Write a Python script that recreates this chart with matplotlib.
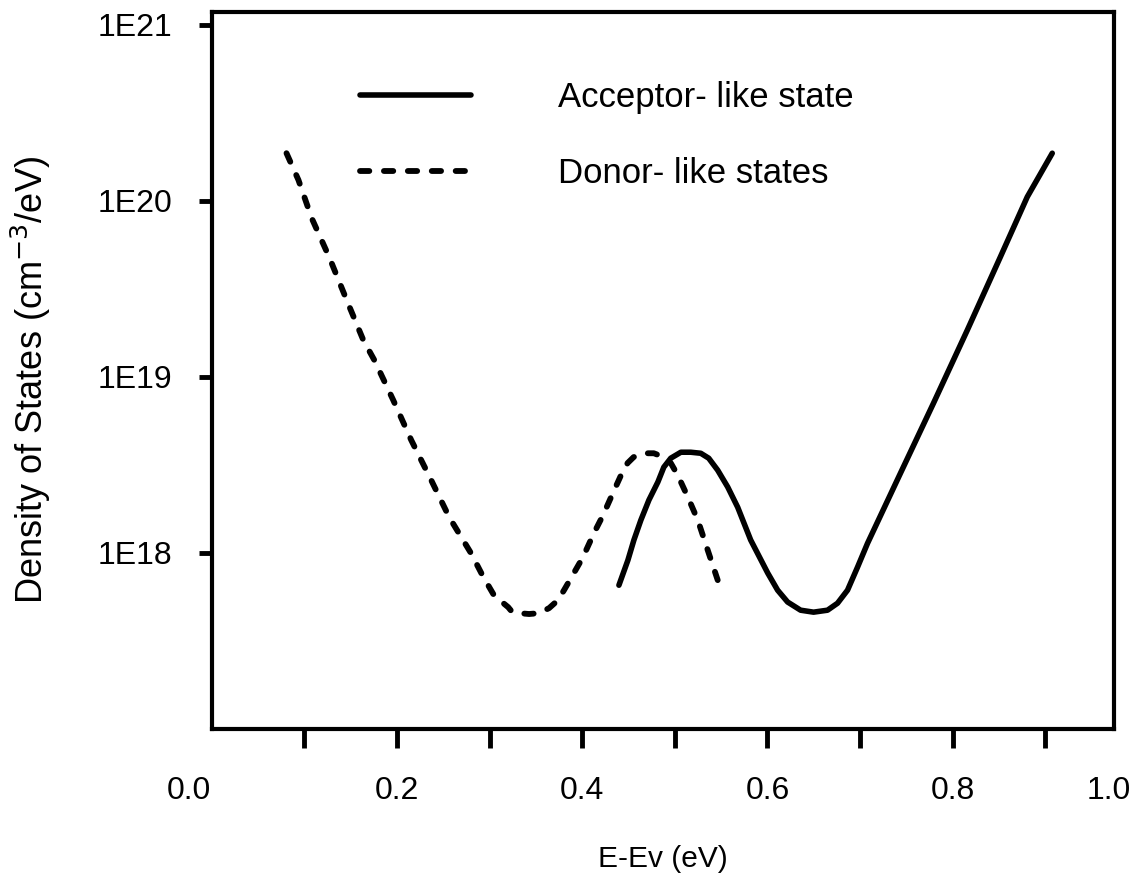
import numpy as np
import matplotlib.pyplot as plt
from matplotlib.transforms import offset_copy

plt.rcParams['font.family'] = ['Liberation Sans', 'DejaVu Sans']

# donor-like states (dashed)
donor_e = [0.0806, 0.0935, 0.1078, 0.1272, 0.1456, 0.1636, 0.1755, 0.1959, 0.2153,
           0.2369, 0.2563, 0.2800, 0.2930, 0.3049, 0.3200, 0.3243, 0.3318, 0.3426,
           0.3534, 0.3642, 0.3738, 0.3803, 0.3878, 0.4008, 0.4126, 0.4224, 0.4331,
           0.4418, 0.4490, 0.4555, 0.4665, 0.4773, 0.4881, 0.4956, 0.5032, 0.5140,
           0.5248, 0.5356, 0.5463]
donor_dos = [1.86e20, 1.31e20, 7.96e19, 4.71e19, 2.72e19, 1.61e19, 1.24e19, 7.35e18,
             4.36e18, 2.58e18, 1.59e18, 9.9e17, 7.3e17, 5.7e17, 4.9e17, 4.6e17,
             4.53e17, 4.48e17, 4.53e17, 4.84e17, 5.37e17, 6.12e17, 7.16e17, 9.43e17,
             1.29e18, 1.63e18, 2.18e18, 2.75e18, 3.23e18, 3.49e18, 3.67e18, 3.67e18,
             3.49e18, 3.23e18, 2.75e18, 2.07e18, 1.53e18, 1.03e18, 6.98e17]

# acceptor-like state (solid)
acc_e = [0.4396, 0.4493, 0.4558, 0.4633, 0.4720, 0.4817, 0.4881, 0.4956, 0.5065,
         0.5172, 0.5280, 0.5366, 0.5463, 0.5571, 0.5679, 0.5819, 0.6003, 0.6110,
         0.6218, 0.6358, 0.6498, 0.6649, 0.6757, 0.6865, 0.6973, 0.7081, 0.7437,
         0.7793, 0.8159, 0.8515, 0.8806, 0.9076]
acc_dos = [6.53e17, 9.06e17, 1.18e18, 1.53e18, 1.99e18, 2.52e18, 3.06e18, 3.44e18,
           3.72e18, 3.72e18, 3.67e18, 3.44e18, 2.94e18, 2.36e18, 1.81e18, 1.18e18,
           7.66e17, 6.12e17, 5.24e17, 4.71e17, 4.59e17, 4.71e17, 5.16e17, 6.12e17,
           8.27e17, 1.13e18, 2.83e18, 7.06e18, 1.84e19, 4.78e19, 1.05e20, 1.86e20]

xticks = [0.1, 0.2, 0.3, 0.4, 0.5, 0.6, 0.7, 0.8, 0.9]
xtick_labels = ['', '0.2', '', '0.4', '', '0.6', '', '0.8', '']
yticks = [1e18, 1e19, 1e20, 1e21]
ytick_labels = ['1E18', '1E19', '1E20', '1E21']

tick_fs = 23
fig = plt.figure(figsize=(11.33, 8.8), dpi=100)
ax = fig.add_axes([0.187, 0.172, 0.796, 0.814])

ax.plot(acc_e, acc_dos, color='black', lw=4, solid_capstyle='round',
        solid_joinstyle='round', label='Acceptor- like state')
ax.plot(donor_e, donor_dos, color='black', lw=4.2, dashes=(1.6, 2.5),
        dash_capstyle='round', label='Donor- like states')

ax.set_yscale('log')
ax.set_xlim(0, 0.974)
ax.set_ylim(1e17, 1.175e21)
ax.set_xticks(xticks, xtick_labels)
ax.set_yticks(yticks, ytick_labels)
ax.minorticks_off()
ax.tick_params(axis='x', direction='out', length=14, width=3.5, pad=20, labelsize=tick_fs)
ax.tick_params(axis='y', direction='out', length=9.5, width=3.5, pad=19, labelsize=tick_fs)

# end labels of the energy axis, set just outside the ticked range
end_tr = offset_copy(ax.transAxes, fig=fig, x=0, y=-34, units='points')
for xpos, txt in [(-0.025, '0.0'), (0.995, '1.0')]:
    ax.text(xpos, 0.0, txt, transform=end_tr, fontsize=tick_fs, ha='center', va='top')

for sp in ax.spines.values():
    sp.set_linewidth(3)

ax.set_xlabel('E-Ev (eV)', fontsize=21.5)
ax.set_ylabel('Density of States (cm$^{-3}$/eV)', fontsize=26)
ax.xaxis.set_label_coords(0.5, -0.162)
ax.yaxis.set_label_coords(-0.176, 0.487)

ax.legend(loc='upper left', bbox_to_anchor=(0.164, 0.904), frameon=False,
          fontsize=25, handlelength=3.2, handletextpad=2.5, labelspacing=1.25,
          borderpad=0, borderaxespad=0)

fig.savefig('out.png', dpi=100)
